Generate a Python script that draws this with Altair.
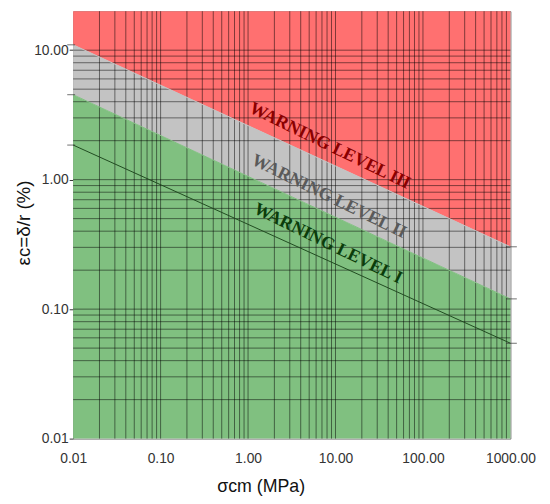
import altair as alt
import pandas as pd

# ---- data ----
x_ends = [0.01, 1000.0]
level1 = [1.85, 0.0545]     # thin line inside the green zone
level2 = [4.53, 0.12]       # green / grey boundary
level3 = [11.0, 0.303]      # grey / red boundary
y_min, y_max = 0.01, 20.0

x_major = [0.01, 0.1, 1, 10, 100, 1000]
y_major = [0.01, 0.1, 1, 10]
mult = [1, 2, 3, 4, 5, 6, 7, 8, 9]
x_grid = [m * d for d in [0.01, 0.1, 1, 10, 100] for m in mult][1:]
y_grid = [m * d for d in [0.01, 0.1, 1] for m in mult][1:] + [10]

labels = ["WARNING LEVEL III", "WARNING LEVEL II", "WARNING LEVEL I"]
label_x = [8.6, 8.4, 8.2]
label_y = [1.82, 0.74, 0.32]
label_colors = ["#8b0000", "#5a5a5a", "#0b3d0b"]

zones = pd.DataFrame({
    "x": x_ends * 3,
    "lo": [y_min, y_min] + level2 + level3,
    "hi": level2 + level3 + [y_max, y_max],
    "zone": ["green"] * 2 + ["grey"] * 2 + ["red"] * 2,
})
bounds = pd.DataFrame({
    "x": x_ends * 2,
    "y": level2 + level3,
    "lvl": ["II"] * 2 + ["III"] * 2,
})
line1 = pd.DataFrame({"x": x_ends, "y": level1})
left_ends = pd.DataFrame({"x": [x_ends[0]] * 3, "y": [level1[0], level2[0], level3[0]]})
right_ends = pd.DataFrame({"x": [x_ends[1]] * 3, "y": [level1[1], level2[1], level3[1]]})
text_df = pd.DataFrame({"t": labels, "x": label_x, "y": label_y, "c": label_colors})

xs = alt.Scale(type="log", domain=[0.01, 1000], nice=False)
ys = alt.Scale(type="log", domain=[y_min, y_max], nice=False)

x_axis = alt.Axis(values=x_major, format=".2f", grid=False, ticks=False, domain=False,
                  labelFont="Liberation Sans", labelFontSize=14, labelColor="#333333",
                  labelPadding=13, labelFlush=False,
                  title="σcm   (MPa)", titleFont="Liberation Sans", titleFontSize=18,
                  titleFontWeight="normal", titleColor="#111111",
                  titleX=190, titleY=49, titleBaseline="middle", titleAlign="center")
y_axis = alt.Axis(values=y_major, format=".2f", grid=False, ticks=True, tickSize=4,
                  tickColor="#333333", domain=False,
                  labelFont="Liberation Sans", labelFontSize=14, labelColor="#333333",
                  labelPadding=1, labelFlush=False,
                  title="εc=δ/r (%)", titleFont="Liberation Sans", titleFontSize=19,
                  titleFontWeight="normal", titleColor="#111111", titleAngle=270,
                  titleX=-50, titleY=214, titleBaseline="middle", titleAlign="center")

areas = alt.Chart(zones).mark_area(opacity=1).encode(
    x=alt.X("x:Q", scale=xs, axis=x_axis),
    y=alt.Y("lo:Q", scale=ys, axis=y_axis),
    y2="hi:Q",
    color=alt.Color("zone:N", scale=alt.Scale(domain=["green", "grey", "red"],
                                               range=["#80c080", "#c3c3c3", "#ff7070"]),
                    legend=None),
)

vgrid = alt.Chart(pd.DataFrame({"x": x_grid})).mark_rule(
    color="#000000", opacity=0.5, strokeWidth=1).encode(x=alt.X("x:Q", scale=xs))
hgrid = alt.Chart(pd.DataFrame({"y": y_grid})).mark_rule(
    color="#000000", opacity=0.5, strokeWidth=1).encode(y=alt.Y("y:Q", scale=ys))

bound_lines = alt.Chart(bounds).mark_line(strokeWidth=1).encode(
    x=alt.X("x:Q", scale=xs),
    y=alt.Y("y:Q", scale=ys),
    detail="lvl:N",
    color=alt.Color("lvl:N", scale=alt.Scale(domain=["II", "III"],
                                              range=["#8a8a8a", "#d04040"]),
                    legend=None),
)
lvl1_line = alt.Chart(line1).mark_line(strokeWidth=1, color="#1f4a1f").encode(
    x=alt.X("x:Q", scale=xs), y=alt.Y("y:Q", scale=ys))

lt = alt.Chart(left_ends).mark_tick(orient="horizontal", size=8, thickness=1,
                                    color="#333333", xOffset=-2).encode(
    x=alt.X("x:Q", scale=xs), y=alt.Y("y:Q", scale=ys))
rt = alt.Chart(right_ends).mark_tick(orient="horizontal", size=11, thickness=1,
                                     color="#333333", xOffset=1).encode(
    x=alt.X("x:Q", scale=xs), y=alt.Y("y:Q", scale=ys))

texts = alt.Chart(text_df).mark_text(font="Liberation Serif", fontWeight="bold",
                                     fontSize=18, angle=26).encode(
    x=alt.X("x:Q", scale=xs), y=alt.Y("y:Q", scale=ys), text="t:N",
    color=alt.Color("c:N", scale=None))

chart = alt.layer(areas, vgrid, hgrid, bound_lines, lvl1_line, lt, rt, texts).properties(
    width=443, height=433,
    autosize=alt.AutoSizeParams(type="none"),
    padding={"left": 66, "top": 0, "right": 32, "bottom": 63},
).configure_view(stroke="#777777", strokeWidth=1)

chart.save("out.html", embed_options={"renderer": "svg", "actions": False})
